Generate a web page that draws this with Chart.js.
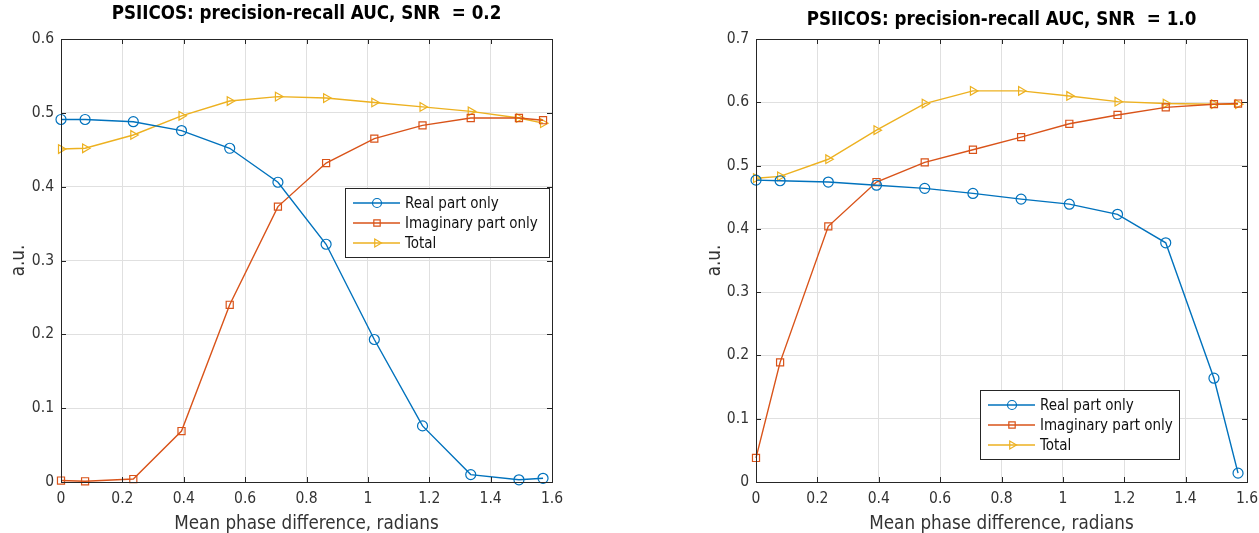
<!DOCTYPE html>
<html><head><meta charset="utf-8">
<script src="https://cdn.jsdelivr.net/npm/chart.js@4"></script>
<style>
body{margin:0;background:#fff;}
.wrap{position:absolute;top:0;height:533px;}
</style></head><body>
<div class="wrap" style="left:0;width:630px"><canvas id="c1"></canvas></div>
<div class="wrap" style="left:630px;width:629px"><canvas id="c2"></canvas></div>
<script>
// mean phase difference (radians)
var phase = [0, 0.0785, 0.2356, 0.3927, 0.5498, 0.7069, 0.8639, 1.0210, 1.1781, 1.3352, 1.4923, 1.5708];
var seriesNames = ['Real part only', 'Imaginary part only', 'Total'];

// SNR = 0.2
var real02  = [0.491, 0.491, 0.488, 0.476, 0.452, 0.406, 0.322, 0.193, 0.076, 0.010, 0.003, 0.005];
var imag02  = [0.002, 0.001, 0.004, 0.069, 0.240, 0.373, 0.432, 0.465, 0.483, 0.493, 0.493, 0.490];
var total02 = [0.451, 0.452, 0.470, 0.496, 0.516, 0.522, 0.520, 0.514, 0.508, 0.502, 0.493, 0.486];

// SNR = 1.0
var real10  = [0.477, 0.476, 0.474, 0.469, 0.464, 0.456, 0.447, 0.439, 0.423, 0.378, 0.164, 0.014];
var imag10  = [0.038, 0.189, 0.404, 0.474, 0.505, 0.525, 0.545, 0.566, 0.580, 0.592, 0.597, 0.598];
var total10 = [0.480, 0.483, 0.510, 0.556, 0.598, 0.618, 0.618, 0.610, 0.601, 0.598, 0.597, 0.597];

var colors = ['#0072BD', '#D95319', '#EDB120'];
var styles = ['circle', 'rect', 'triangle'];
var rotations = [0, 0, 90];
var FONT = "'DejaVu Sans Condensed', 'DejaVu Sans', sans-serif";
var INK = '#333';

function pts(ys) {
  return phase.map(function (x, i) { return {x: x, y: ys[i]}; });
}

function makeSets(lists) {
  return lists.map(function (ys, i) {
    return {
      label: seriesNames[i],
      data: pts(ys),
      borderColor: colors[i],
      borderWidth: 1.4,
      pointStyle: styles[i],
      pointRotation: rotations[i],
      pointRadius: 5,
      pointBorderWidth: 1.2,
      pointBorderColor: colors[i],
      pointBackgroundColor: 'rgba(0,0,0,0)',
      clip: false,
      tension: 0
    };
  });
}

// matlab style box, inward ticks, title over the axes and legend inside
var boxPlugin = {
  id: 'matBox',
  afterDraw: function (chart, args, opts) {
    var a = chart.chartArea, c = chart.ctx;
    c.save();
    c.strokeStyle = '#262626';
    c.lineWidth = 1;
    c.strokeRect(Math.round(a.left) + 0.5, Math.round(a.top) + 0.5, Math.round(a.right - a.left), Math.round(a.bottom - a.top));
    var xs = chart.scales.x, ys = chart.scales.y;
    c.beginPath();
    xs.ticks.forEach(function (t) {
      var px = Math.round(xs.getPixelForValue(t.value)) + 0.5;
      c.moveTo(px, a.bottom); c.lineTo(px, a.bottom - 5);
      c.moveTo(px, a.top); c.lineTo(px, a.top + 5);
    });
    ys.ticks.forEach(function (t) {
      var py = Math.round(ys.getPixelForValue(t.value)) + 0.5;
      c.moveTo(a.left, py); c.lineTo(a.left + 5, py);
      c.moveTo(a.right, py); c.lineTo(a.right - 5, py);
    });
    c.stroke();

    // title, centred on the axes like matlab does
    c.fillStyle = '#000';
    c.font = 'bold 18.6px ' + FONT;
    c.textAlign = 'center';
    c.textBaseline = 'middle';
    c.fillText(opts.title, (a.left + a.right) / 2, opts.titleY);

    var L = opts.box;
    c.textAlign = 'left';
    c.fillStyle = '#fff';
    c.fillRect(L.x, L.y, L.w, L.h);
    c.strokeStyle = '#262626';
    c.strokeRect(L.x + 0.5, L.y + 0.5, L.w, L.h);
    c.font = '15px ' + FONT;
    chart.data.datasets.forEach(function (ds, i) {
      var y = L.y + 15 + i * 20;
      c.strokeStyle = ds.borderColor;
      c.lineWidth = 1.4;
      c.beginPath(); c.moveTo(L.x + 8, y); c.lineTo(L.x + 55, y); c.stroke();
      c.fillStyle = 'rgba(0,0,0,0)';
      c.lineWidth = 1.2;
      Chart.helpers.drawPoint(c, {pointStyle: ds.pointStyle, rotation: ds.pointRotation, radius: 4.5, borderWidth: 1.2}, L.x + 32, y);
      c.fillStyle = '#111';
      c.fillText(ds.label, L.x + 60, y + 1);
    });
    c.restore();
  }
};

function makeChart(id, lists, title, ymax, pad, titleY, yTitlePad, legendBox) {
  return new Chart(document.getElementById(id).getContext('2d'), {
    type: 'line',
    data: {datasets: makeSets(lists)},
    plugins: [boxPlugin],
    options: {
      responsive: true,
      maintainAspectRatio: false,
      animation: false,
      events: [],
      layout: {padding: pad},
      plugins: {
        legend: {display: false},
        tooltip: {enabled: false},
        title: {display: false},
        matBox: {box: legendBox, title: title, titleY: titleY}
      },
      scales: {
        x: {
          type: 'linear', min: 0, max: 1.6,
          afterFit: function (s) { s.height = 51; s.paddingLeft = 0; s.paddingRight = 0; },
          grid: {color: '#e0e0e0', drawTicks: false},
          border: {display: false},
          ticks: {stepSize: 0.2, padding: 8, color: INK, font: {family: FONT, size: 15.5},
            callback: function (v) { return +v.toFixed(1); }},
          title: {display: true, text: 'Mean phase difference, radians', color: INK,
            font: {family: FONT, size: 18.7}, padding: {top: 0, bottom: -2}}
        },
        y: {
          min: 0, max: ymax,
          afterFit: function (s) { s.width = 61; },
          grid: {color: '#e0e0e0', drawTicks: false},
          border: {display: false},
          ticks: {stepSize: 0.1, padding: 7, color: INK, font: {family: FONT, size: 15.5},
            callback: function (v) { return +v.toFixed(1); }},
          title: {display: true, text: 'a.u.', color: INK,
            font: {family: FONT, size: 18.7}, padding: {top: yTitlePad, bottom: 0}}
        }
      }
    }
  });
}

makeChart('c1', [real02, imag02, total02], 'PSIICOS: precision-recall AUC, SNR  = 0.2', 0.6,
  {left: 0, right: 78, top: 39, bottom: 0}, 14, 8, {x: 345, y: 188, w: 204, h: 69});
makeChart('c2', [real10, imag10, total10], 'PSIICOS: precision-recall AUC, SNR  = 1.0', 0.7,
  {left: 65, right: 12, top: 39, bottom: 0}, 20, 9, {x: 350, y: 390, w: 199, h: 69});
</script>
</body></html>
